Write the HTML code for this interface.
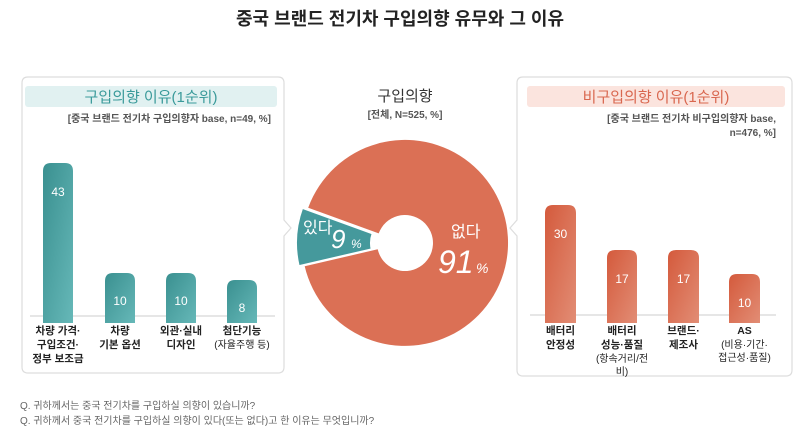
<!DOCTYPE html>
<html><head><meta charset="utf-8"><style>
body{margin:0;background:#fff;}
svg text{font-family:"Liberation Sans","Noto Sans CJK KR",sans-serif;}
</style></head><body>
<svg width="800" height="442" viewBox="0 0 800 442" xmlns="http://www.w3.org/2000/svg">
<defs>
<linearGradient id="tg" x1="0" y1="0" x2="1" y2="1"><stop offset="0" stop-color="#3a9090"/><stop offset="1" stop-color="#66b8b8"/></linearGradient>
<linearGradient id="og" x1="0" y1="0" x2="1" y2="1"><stop offset="0" stop-color="#d45a3c"/><stop offset="1" stop-color="#e28d75"/></linearGradient>
</defs>
<text x="400" y="25" font-size="18" font-weight="bold" text-anchor="middle" fill="#222">중국 브랜드 전기차 구입의향 유무와 그 이유</text>

<!-- left panel -->
<path d="M28 77 H278 Q284 77 284 83 V220 L291 228 L284 236 V367 Q284 373 278 373 H28 Q22 373 22 367 V83 Q22 77 28 77 Z" fill="#fff" stroke="#ddd" stroke-width="1.2"/>
<rect x="25" y="86" width="252" height="21" rx="3" fill="#e1f1f1"/>
<text x="151" y="102" font-size="15" text-anchor="middle" fill="#3a9a9a">구입의향 이유(1순위)</text>
<text x="271" y="122" font-size="10" font-weight="bold" text-anchor="end" fill="#555">[중국 브랜드 전기차 구입의향자 base, n=49, %]</text>
<line x1="30" y1="316" x2="275" y2="316" stroke="#ccc"/>
<path d="M43 323 V171 Q43 163 51 163 H65 Q73 163 73 171 V323 Z" fill="url(#tg)"/>
<path d="M105 323 V281 Q105 273 113 273 H127 Q135 273 135 281 V323 Z" fill="url(#tg)"/>
<path d="M166 323 V281 Q166 273 174 273 H188 Q196 273 196 281 V323 Z" fill="url(#tg)"/>
<path d="M227 323 V288 Q227 280 235 280 H249 Q257 280 257 288 V323 Z" fill="url(#tg)"/>
<g font-size="12" fill="#fff" text-anchor="middle">
<text x="58" y="196">43</text><text x="120" y="305">10</text><text x="181" y="305">10</text><text x="242" y="312">8</text></g>
<g font-size="10.5" font-weight="bold" fill="#222" text-anchor="middle">
<text x="58" y="334">차량 가격·</text><text x="58" y="348">구입조건·</text><text x="58" y="362">정부 보조금</text>
<text x="120" y="334">차량</text><text x="120" y="348">기본 옵션</text>
<text x="181" y="334">외관·실내</text><text x="181" y="348">디자인</text>
<text x="242" y="334">첨단기능</text><text x="242" y="348" font-weight="normal" font-size="10">(자율주행 등)</text></g>

<!-- center -->
<text x="405" y="101" font-size="15" text-anchor="middle" fill="#333">구입의향</text>
<text x="405" y="118" font-size="10" font-weight="bold" text-anchor="middle" fill="#555">[전체, N=525, %]</text>
<path d="M308.2 207.8 A103 103 0 1 1 304.7 266.2 L377.7 249.3 A28 28 0 1 0 378.7 233.4 Z" fill="#db7055"/>
<path d="M302.2 207.8 A103 103 0 0 0 298.7 266.2 L371.7 249.3 A28 28 0 0 1 372.7 233.4 Z" fill="#45999c" stroke="#fff" stroke-width="2"/>
<text x="303" y="233" font-size="16" fill="#fff">있다</text>
<text x="331" y="248" font-size="26" font-style="italic" fill="#fff">9</text>
<text x="351" y="248" font-size="12" font-style="italic" fill="#fff">%</text>
<text x="451" y="237" font-size="16" fill="#fff">없다</text>
<text x="438" y="273" font-size="32" font-style="italic" fill="#fff">91</text>
<text x="476" y="273" font-size="14" font-style="italic" fill="#fff">%</text>

<!-- right panel -->
<path d="M523 77 H786 Q792 77 792 83 V370 Q792 376 786 376 H523 Q517 376 517 370 V236 L510 228 L517 220 V83 Q517 77 523 77 Z" fill="#fff" stroke="#ddd" stroke-width="1.2"/>
<rect x="527" y="86" width="258" height="21" rx="3" fill="#fbe4de"/>
<text x="656" y="102" font-size="15" text-anchor="middle" fill="#d9674f">비구입의향 이유(1순위)</text>
<text x="776" y="122" font-size="10" font-weight="bold" text-anchor="end" fill="#555">[중국 브랜드 전기차 비구입의향자 base,</text>
<text x="776" y="136" font-size="10" font-weight="bold" text-anchor="end" fill="#555">n=476, %]</text>
<line x1="530" y1="315" x2="776" y2="315" stroke="#ccc"/>
<path d="M545 323 V213 Q545 205 553 205 H568 Q576 205 576 213 V323 Z" fill="url(#og)"/>
<path d="M607 323 V258 Q607 250 615 250 H629 Q637 250 637 258 V323 Z" fill="url(#og)"/>
<path d="M668 323 V258 Q668 250 676 250 H691 Q699 250 699 258 V323 Z" fill="url(#og)"/>
<path d="M729 323 V282 Q729 274 737 274 H752 Q760 274 760 282 V323 Z" fill="url(#og)"/>
<g font-size="12" fill="#fff" text-anchor="middle">
<text x="560.5" y="238">30</text><text x="622" y="283">17</text><text x="683.5" y="283">17</text><text x="744.5" y="307">10</text></g>
<g font-size="10.5" font-weight="bold" fill="#222" text-anchor="middle">
<text x="560.5" y="334">배터리</text><text x="560.5" y="348">안정성</text>
<text x="622" y="334">배터리</text><text x="622" y="348">성능·품질</text>
<text x="622" y="362" font-weight="normal" font-size="10">(항속거리/전</text><text x="622" y="375" font-weight="normal" font-size="10">비)</text>
<text x="683.5" y="334">브랜드·</text><text x="683.5" y="348">제조사</text>
<text x="744.5" y="334">AS</text><text x="744.5" y="348" font-weight="normal" font-size="10">(비용·기간·</text><text x="744.5" y="361" font-weight="normal" font-size="10">접근성·품질)</text></g>

<text x="20" y="409" font-size="10" fill="#666">Q. 귀하께서는 중국 전기차를 구입하실 의향이 있습니까?</text>
<text x="20" y="424" font-size="10" fill="#666">Q. 귀하께서 중국 전기차를 구입하실 의향이 있다(또는 없다)고 한 이유는 무엇입니까?</text>
</svg>
</body></html>
